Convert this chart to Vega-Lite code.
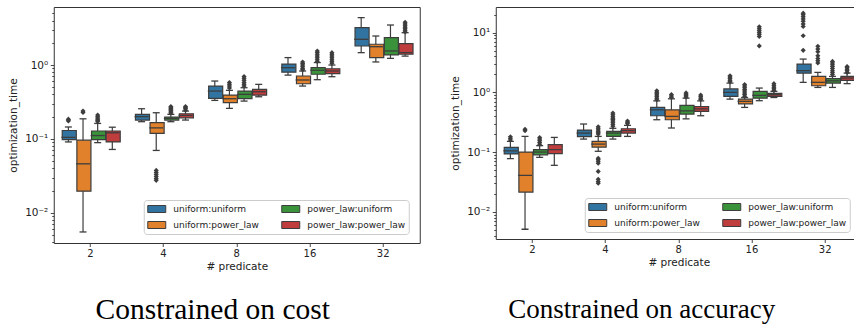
{
  "$schema": "https://vega.github.io/schema/vega-lite/v6.json",
  "padding": {"left": 6.75, "top": 6, "right": 0, "bottom": 0},
  "background": "white",
  "config": {
    "view": {"stroke": "#333333", "strokeWidth": 1},
    "axis": {"grid": false, "domain": false, "tickColor": "#333333", "tickSize": 3.5, "tickWidth": 0.9, "labelFont": "DejaVu Sans", "labelFontSize": 10, "labelColor": "#222222", "titleFont": "DejaVu Sans", "titleFontSize": 10.5, "titleFontWeight": "normal", "titleColor": "#222222"},
    "axisX": {"labelAngle": 0, "labelPadding": 2, "titlePadding": 3},
    "axisY": {"labelPadding": 2.5, "titlePadding": 5.75, "labelOverlap": false, "labelFontSize": 10.5, "minExtent": 30, "maxExtent": 30},
    "legend": {"title": null, "columns": 2, "symbolType": "M-1,-0.7H2.6V0.7H-1Z", "symbolSize": 100, "symbolStrokeColor": "#3d3d3d", "symbolStrokeWidth": 1, "symbolOpacity": 1, "labelFont": "DejaVu Sans", "labelFontSize": 9, "labelColor": "#222222", "labelOffset": 15, "columnPadding": 20, "rowPadding": 5, "padding": 3.5, "fillColor": "white", "strokeColor": "#cccccc", "cornerRadius": 3},
    "title": {"font": "Liberation Serif", "fontWeight": "normal", "color": "black"}
  },
  "datasets": {
    "stats": [
      {"p": "cost", "pred": 2, "dist": "uniform:uniform", "lo": 0.091, "q1": 0.098, "med": 0.105, "q3": 0.130, "hi": 0.145},
      {"p": "cost", "pred": 2, "dist": "uniform:power_law", "lo": 0.0055, "q1": 0.0196, "med": 0.046, "q3": 0.096, "hi": 0.187},
      {"p": "cost", "pred": 2, "dist": "power_law:uniform", "lo": 0.089, "q1": 0.098, "med": 0.111, "q3": 0.128, "hi": 0.162},
      {"p": "cost", "pred": 2, "dist": "power_law:power_law", "lo": 0.072, "q1": 0.091, "med": 0.121, "q3": 0.128, "hi": 0.144},
      {"p": "cost", "pred": 4, "dist": "uniform:uniform", "lo": 0.171, "q1": 0.18, "med": 0.2, "q3": 0.215, "hi": 0.256},
      {"p": "cost", "pred": 4, "dist": "uniform:power_law", "lo": 0.0698, "q1": 0.119, "med": 0.141, "q3": 0.166, "hi": 0.226},
      {"p": "cost", "pred": 4, "dist": "power_law:uniform", "lo": 0.171, "q1": 0.18, "med": 0.19, "q3": 0.197, "hi": 0.215},
      {"p": "cost", "pred": 4, "dist": "power_law:power_law", "lo": 0.18, "q1": 0.193, "med": 0.208, "q3": 0.219, "hi": 0.238},
      {"p": "cost", "pred": 8, "dist": "uniform:uniform", "lo": 0.332, "q1": 0.354, "med": 0.444, "q3": 0.519, "hi": 0.607},
      {"p": "cost", "pred": 8, "dist": "uniform:power_law", "lo": 0.259, "q1": 0.309, "med": 0.35, "q3": 0.392, "hi": 0.454},
      {"p": "cost", "pred": 8, "dist": "power_law:uniform", "lo": 0.325, "q1": 0.35, "med": 0.401, "q3": 0.444, "hi": 0.493},
      {"p": "cost", "pred": 8, "dist": "power_law:power_law", "lo": 0.372, "q1": 0.392, "med": 0.435, "q3": 0.468, "hi": 0.547},
      {"p": "cost", "pred": 16, "dist": "uniform:uniform", "lo": 0.73, "q1": 0.8, "med": 0.92, "q3": 1.03, "hi": 1.26},
      {"p": "cost", "pred": 16, "dist": "uniform:power_law", "lo": 0.519, "q1": 0.558, "med": 0.627, "q3": 0.71, "hi": 0.83},
      {"p": "cost", "pred": 16, "dist": "power_law:uniform", "lo": 0.633, "q1": 0.75, "med": 0.85, "q3": 0.92, "hi": 1.08},
      {"p": "cost", "pred": 16, "dist": "power_law:power_law", "lo": 0.695, "q1": 0.763, "med": 0.83, "q3": 0.89, "hi": 1.0},
      {"p": "cost", "pred": 32, "dist": "uniform:uniform", "lo": 1.47, "q1": 1.81, "med": 2.23, "q3": 3.2, "hi": 4.38},
      {"p": "cost", "pred": 32, "dist": "uniform:power_law", "lo": 1.1, "q1": 1.26, "med": 1.77, "q3": 1.91, "hi": 2.47},
      {"p": "cost", "pred": 32, "dist": "power_law:uniform", "lo": 1.23, "q1": 1.37, "med": 1.55, "q3": 2.35, "hi": 3.48},
      {"p": "cost", "pred": 32, "dist": "power_law:power_law", "lo": 1.32, "q1": 1.4, "med": 1.47, "q3": 1.95, "hi": 2.74},
      {"p": "acc", "pred": 2, "dist": "uniform:uniform", "lo": 0.0776, "q1": 0.093, "med": 0.105, "q3": 0.12, "hi": 0.151},
      {"p": "acc", "pred": 2, "dist": "uniform:power_law", "lo": 0.0051, "q1": 0.0214, "med": 0.0407, "q3": 0.1, "hi": 0.183},
      {"p": "acc", "pred": 2, "dist": "power_law:uniform", "lo": 0.0816, "q1": 0.09, "med": 0.1, "q3": 0.11, "hi": 0.128},
      {"p": "acc", "pred": 2, "dist": "power_law:power_law", "lo": 0.06, "q1": 0.094, "med": 0.11, "q3": 0.133, "hi": 0.176},
      {"p": "acc", "pred": 4, "dist": "uniform:uniform", "lo": 0.165, "q1": 0.181, "med": 0.208, "q3": 0.234, "hi": 0.295},
      {"p": "acc", "pred": 4, "dist": "uniform:power_law", "lo": 0.103, "q1": 0.121, "med": 0.136, "q3": 0.151, "hi": 0.183},
      {"p": "acc", "pred": 4, "dist": "power_law:uniform", "lo": 0.165, "q1": 0.183, "med": 0.208, "q3": 0.222, "hi": 0.25},
      {"p": "acc", "pred": 4, "dist": "power_law:power_law", "lo": 0.183, "q1": 0.208, "med": 0.228, "q3": 0.246, "hi": 0.28},
      {"p": "acc", "pred": 8, "dist": "uniform:uniform", "lo": 0.348, "q1": 0.406, "med": 0.51, "q3": 0.561, "hi": 0.72},
      {"p": "acc", "pred": 8, "dist": "uniform:power_law", "lo": 0.253, "q1": 0.348, "med": 0.396, "q3": 0.51, "hi": 0.78},
      {"p": "acc", "pred": 8, "dist": "power_law:uniform", "lo": 0.36, "q1": 0.433, "med": 0.49, "q3": 0.605, "hi": 0.8},
      {"p": "acc", "pred": 8, "dist": "power_law:power_law", "lo": 0.406, "q1": 0.48, "med": 0.53, "q3": 0.58, "hi": 0.72},
      {"p": "acc", "pred": 16, "dist": "uniform:uniform", "lo": 0.77, "q1": 0.857, "med": 1.0, "q3": 1.14, "hi": 1.43},
      {"p": "acc", "pred": 16, "dist": "uniform:power_law", "lo": 0.56, "q1": 0.64, "med": 0.707, "q3": 0.77, "hi": 0.82},
      {"p": "acc", "pred": 16, "dist": "power_law:uniform", "lo": 0.725, "q1": 0.8, "med": 0.89, "q3": 1.04, "hi": 1.18},
      {"p": "acc", "pred": 16, "dist": "power_law:power_law", "lo": 0.82, "q1": 0.857, "med": 0.914, "q3": 0.962, "hi": 1.04},
      {"p": "acc", "pred": 32, "dist": "uniform:uniform", "lo": 1.47, "q1": 2.1, "med": 2.31, "q3": 2.98, "hi": 3.61},
      {"p": "acc", "pred": 32, "dist": "uniform:power_law", "lo": 1.21, "q1": 1.29, "med": 1.47, "q3": 1.85, "hi": 2.16},
      {"p": "acc", "pred": 32, "dist": "power_law:uniform", "lo": 1.21, "q1": 1.43, "med": 1.56, "q3": 1.7, "hi": 1.85},
      {"p": "acc", "pred": 32, "dist": "power_law:power_law", "lo": 1.4, "q1": 1.59, "med": 1.74, "q3": 1.85, "hi": 2.1}
    ],
    "out": [
      {"p": "cost", "pred": 2, "dist": "uniform:uniform", "v": 0.175},
      {"p": "cost", "pred": 2, "dist": "uniform:uniform", "v": 0.18},
      {"p": "cost", "pred": 2, "dist": "uniform:uniform", "v": 0.185},
      {"p": "cost", "pred": 2, "dist": "uniform:power_law", "v": 0.228},
      {"p": "cost", "pred": 2, "dist": "uniform:power_law", "v": 0.238},
      {"p": "cost", "pred": 2, "dist": "power_law:uniform", "v": 0.172},
      {"p": "cost", "pred": 2, "dist": "power_law:uniform", "v": 0.178},
      {"p": "cost", "pred": 2, "dist": "power_law:uniform", "v": 0.185},
      {"p": "cost", "pred": 2, "dist": "power_law:uniform", "v": 0.192},
      {"p": "cost", "pred": 2, "dist": "power_law:uniform", "v": 0.2},
      {"p": "cost", "pred": 2, "dist": "power_law:uniform", "v": 0.21},
      {"p": "cost", "pred": 4, "dist": "uniform:power_law", "v": 0.0275},
      {"p": "cost", "pred": 4, "dist": "uniform:power_law", "v": 0.029},
      {"p": "cost", "pred": 4, "dist": "uniform:power_law", "v": 0.031},
      {"p": "cost", "pred": 4, "dist": "uniform:power_law", "v": 0.033},
      {"p": "cost", "pred": 4, "dist": "uniform:power_law", "v": 0.035},
      {"p": "cost", "pred": 4, "dist": "uniform:power_law", "v": 0.0375},
      {"p": "cost", "pred": 4, "dist": "power_law:uniform", "v": 0.225},
      {"p": "cost", "pred": 4, "dist": "power_law:uniform", "v": 0.232},
      {"p": "cost", "pred": 4, "dist": "power_law:uniform", "v": 0.24},
      {"p": "cost", "pred": 4, "dist": "power_law:uniform", "v": 0.248},
      {"p": "cost", "pred": 4, "dist": "power_law:uniform", "v": 0.256},
      {"p": "cost", "pred": 4, "dist": "power_law:uniform", "v": 0.265},
      {"p": "cost", "pred": 4, "dist": "power_law:uniform", "v": 0.275},
      {"p": "cost", "pred": 4, "dist": "power_law:power_law", "v": 0.245},
      {"p": "cost", "pred": 4, "dist": "power_law:power_law", "v": 0.255},
      {"p": "cost", "pred": 4, "dist": "power_law:power_law", "v": 0.265},
      {"p": "cost", "pred": 4, "dist": "power_law:power_law", "v": 0.275},
      {"p": "cost", "pred": 8, "dist": "uniform:power_law", "v": 0.49},
      {"p": "cost", "pred": 8, "dist": "uniform:power_law", "v": 0.52},
      {"p": "cost", "pred": 8, "dist": "uniform:power_law", "v": 0.55},
      {"p": "cost", "pred": 8, "dist": "uniform:power_law", "v": 0.58},
      {"p": "cost", "pred": 8, "dist": "power_law:uniform", "v": 0.52},
      {"p": "cost", "pred": 8, "dist": "power_law:uniform", "v": 0.55},
      {"p": "cost", "pred": 8, "dist": "power_law:uniform", "v": 0.58},
      {"p": "cost", "pred": 8, "dist": "power_law:uniform", "v": 0.62},
      {"p": "cost", "pred": 8, "dist": "power_law:uniform", "v": 0.66},
      {"p": "cost", "pred": 8, "dist": "power_law:uniform", "v": 0.7},
      {"p": "cost", "pred": 16, "dist": "uniform:power_law", "v": 0.86},
      {"p": "cost", "pred": 16, "dist": "uniform:power_law", "v": 0.9},
      {"p": "cost", "pred": 16, "dist": "uniform:power_law", "v": 0.95},
      {"p": "cost", "pred": 16, "dist": "uniform:power_law", "v": 1.0},
      {"p": "cost", "pred": 16, "dist": "uniform:power_law", "v": 1.05},
      {"p": "cost", "pred": 16, "dist": "uniform:power_law", "v": 1.1},
      {"p": "cost", "pred": 16, "dist": "power_law:uniform", "v": 1.12},
      {"p": "cost", "pred": 16, "dist": "power_law:uniform", "v": 1.18},
      {"p": "cost", "pred": 16, "dist": "power_law:uniform", "v": 1.25},
      {"p": "cost", "pred": 16, "dist": "power_law:uniform", "v": 1.32},
      {"p": "cost", "pred": 16, "dist": "power_law:uniform", "v": 1.4},
      {"p": "cost", "pred": 16, "dist": "power_law:uniform", "v": 1.48},
      {"p": "cost", "pred": 16, "dist": "power_law:uniform", "v": 1.55},
      {"p": "cost", "pred": 16, "dist": "power_law:power_law", "v": 1.06},
      {"p": "cost", "pred": 16, "dist": "power_law:power_law", "v": 1.12},
      {"p": "cost", "pred": 16, "dist": "power_law:power_law", "v": 1.18},
      {"p": "cost", "pred": 16, "dist": "power_law:power_law", "v": 1.25},
      {"p": "cost", "pred": 16, "dist": "power_law:power_law", "v": 1.32},
      {"p": "cost", "pred": 16, "dist": "power_law:power_law", "v": 1.4},
      {"p": "cost", "pred": 16, "dist": "power_law:power_law", "v": 1.47},
      {"p": "cost", "pred": 32, "dist": "power_law:power_law", "v": 2.8},
      {"p": "cost", "pred": 32, "dist": "power_law:power_law", "v": 2.95},
      {"p": "cost", "pred": 32, "dist": "power_law:power_law", "v": 3.1},
      {"p": "cost", "pred": 32, "dist": "power_law:power_law", "v": 3.25},
      {"p": "cost", "pred": 32, "dist": "power_law:power_law", "v": 3.4},
      {"p": "cost", "pred": 32, "dist": "power_law:power_law", "v": 3.6},
      {"p": "cost", "pred": 32, "dist": "power_law:power_law", "v": 3.8},
      {"p": "acc", "pred": 2, "dist": "uniform:uniform", "v": 0.16},
      {"p": "acc", "pred": 2, "dist": "uniform:uniform", "v": 0.17},
      {"p": "acc", "pred": 2, "dist": "uniform:uniform", "v": 0.18},
      {"p": "acc", "pred": 2, "dist": "uniform:power_law", "v": 0.228},
      {"p": "acc", "pred": 2, "dist": "uniform:power_law", "v": 0.24},
      {"p": "acc", "pred": 2, "dist": "power_law:uniform", "v": 0.135},
      {"p": "acc", "pred": 2, "dist": "power_law:uniform", "v": 0.145},
      {"p": "acc", "pred": 2, "dist": "power_law:uniform", "v": 0.155},
      {"p": "acc", "pred": 2, "dist": "power_law:uniform", "v": 0.165},
      {"p": "acc", "pred": 2, "dist": "power_law:uniform", "v": 0.175},
      {"p": "acc", "pred": 4, "dist": "uniform:power_law", "v": 0.2},
      {"p": "acc", "pred": 4, "dist": "uniform:power_law", "v": 0.21},
      {"p": "acc", "pred": 4, "dist": "uniform:power_law", "v": 0.22},
      {"p": "acc", "pred": 4, "dist": "uniform:power_law", "v": 0.235},
      {"p": "acc", "pred": 4, "dist": "uniform:power_law", "v": 0.25},
      {"p": "acc", "pred": 4, "dist": "uniform:power_law", "v": 0.265},
      {"p": "acc", "pred": 4, "dist": "uniform:power_law", "v": 0.079},
      {"p": "acc", "pred": 4, "dist": "uniform:power_law", "v": 0.075},
      {"p": "acc", "pred": 4, "dist": "uniform:power_law", "v": 0.07},
      {"p": "acc", "pred": 4, "dist": "uniform:power_law", "v": 0.065},
      {"p": "acc", "pred": 4, "dist": "uniform:power_law", "v": 0.0475},
      {"p": "acc", "pred": 4, "dist": "uniform:power_law", "v": 0.035},
      {"p": "acc", "pred": 4, "dist": "uniform:power_law", "v": 0.032},
      {"p": "acc", "pred": 4, "dist": "uniform:power_law", "v": 0.03},
      {"p": "acc", "pred": 4, "dist": "power_law:uniform", "v": 0.27},
      {"p": "acc", "pred": 4, "dist": "power_law:uniform", "v": 0.29},
      {"p": "acc", "pred": 4, "dist": "power_law:uniform", "v": 0.31},
      {"p": "acc", "pred": 4, "dist": "power_law:uniform", "v": 0.33},
      {"p": "acc", "pred": 4, "dist": "power_law:uniform", "v": 0.35},
      {"p": "acc", "pred": 4, "dist": "power_law:uniform", "v": 0.37},
      {"p": "acc", "pred": 4, "dist": "power_law:uniform", "v": 0.39},
      {"p": "acc", "pred": 4, "dist": "power_law:uniform", "v": 0.42},
      {"p": "acc", "pred": 4, "dist": "power_law:uniform", "v": 0.45},
      {"p": "acc", "pred": 4, "dist": "power_law:power_law", "v": 0.3},
      {"p": "acc", "pred": 4, "dist": "power_law:power_law", "v": 0.315},
      {"p": "acc", "pred": 4, "dist": "power_law:power_law", "v": 0.33},
      {"p": "acc", "pred": 8, "dist": "uniform:uniform", "v": 0.75},
      {"p": "acc", "pred": 8, "dist": "uniform:uniform", "v": 0.8},
      {"p": "acc", "pred": 8, "dist": "uniform:uniform", "v": 0.85},
      {"p": "acc", "pred": 8, "dist": "uniform:uniform", "v": 0.9},
      {"p": "acc", "pred": 8, "dist": "uniform:uniform", "v": 0.95},
      {"p": "acc", "pred": 8, "dist": "uniform:uniform", "v": 1.0},
      {"p": "acc", "pred": 8, "dist": "uniform:uniform", "v": 1.06},
      {"p": "acc", "pred": 8, "dist": "uniform:power_law", "v": 0.82},
      {"p": "acc", "pred": 8, "dist": "uniform:power_law", "v": 0.87},
      {"p": "acc", "pred": 8, "dist": "uniform:power_law", "v": 0.92},
      {"p": "acc", "pred": 8, "dist": "power_law:uniform", "v": 0.84},
      {"p": "acc", "pred": 8, "dist": "power_law:uniform", "v": 0.88},
      {"p": "acc", "pred": 8, "dist": "power_law:uniform", "v": 0.93},
      {"p": "acc", "pred": 8, "dist": "power_law:uniform", "v": 0.98},
      {"p": "acc", "pred": 8, "dist": "power_law:power_law", "v": 0.76},
      {"p": "acc", "pred": 8, "dist": "power_law:power_law", "v": 0.8},
      {"p": "acc", "pred": 8, "dist": "power_law:power_law", "v": 0.85},
      {"p": "acc", "pred": 8, "dist": "power_law:power_law", "v": 0.9},
      {"p": "acc", "pred": 16, "dist": "uniform:uniform", "v": 1.5},
      {"p": "acc", "pred": 16, "dist": "uniform:uniform", "v": 1.6},
      {"p": "acc", "pred": 16, "dist": "uniform:uniform", "v": 1.7},
      {"p": "acc", "pred": 16, "dist": "uniform:uniform", "v": 1.8},
      {"p": "acc", "pred": 16, "dist": "uniform:uniform", "v": 1.9},
      {"p": "acc", "pred": 16, "dist": "uniform:power_law", "v": 0.86},
      {"p": "acc", "pred": 16, "dist": "uniform:power_law", "v": 0.92},
      {"p": "acc", "pred": 16, "dist": "uniform:power_law", "v": 0.98},
      {"p": "acc", "pred": 16, "dist": "uniform:power_law", "v": 1.05},
      {"p": "acc", "pred": 16, "dist": "uniform:power_law", "v": 1.12},
      {"p": "acc", "pred": 16, "dist": "uniform:power_law", "v": 1.2},
      {"p": "acc", "pred": 16, "dist": "uniform:power_law", "v": 1.28},
      {"p": "acc", "pred": 16, "dist": "uniform:power_law", "v": 1.35},
      {"p": "acc", "pred": 16, "dist": "power_law:uniform", "v": 6.0},
      {"p": "acc", "pred": 16, "dist": "power_law:uniform", "v": 8.6},
      {"p": "acc", "pred": 16, "dist": "power_law:uniform", "v": 9.3},
      {"p": "acc", "pred": 16, "dist": "power_law:uniform", "v": 10.0},
      {"p": "acc", "pred": 16, "dist": "power_law:uniform", "v": 10.8},
      {"p": "acc", "pred": 16, "dist": "power_law:uniform", "v": 11.6},
      {"p": "acc", "pred": 16, "dist": "power_law:uniform", "v": 12.5},
      {"p": "acc", "pred": 16, "dist": "power_law:power_law", "v": 1.08},
      {"p": "acc", "pred": 16, "dist": "power_law:power_law", "v": 1.15},
      {"p": "acc", "pred": 16, "dist": "power_law:power_law", "v": 1.22},
      {"p": "acc", "pred": 16, "dist": "power_law:power_law", "v": 1.3},
      {"p": "acc", "pred": 16, "dist": "power_law:power_law", "v": 1.4},
      {"p": "acc", "pred": 32, "dist": "uniform:uniform", "v": 5.05},
      {"p": "acc", "pred": 32, "dist": "uniform:uniform", "v": 8.9},
      {"p": "acc", "pred": 32, "dist": "uniform:uniform", "v": 12.7},
      {"p": "acc", "pred": 32, "dist": "uniform:uniform", "v": 14.0},
      {"p": "acc", "pred": 32, "dist": "uniform:uniform", "v": 15.5},
      {"p": "acc", "pred": 32, "dist": "uniform:uniform", "v": 17.0},
      {"p": "acc", "pred": 32, "dist": "uniform:uniform", "v": 18.5},
      {"p": "acc", "pred": 32, "dist": "uniform:uniform", "v": 20.0},
      {"p": "acc", "pred": 32, "dist": "uniform:uniform", "v": 21.2},
      {"p": "acc", "pred": 32, "dist": "uniform:power_law", "v": 3.1},
      {"p": "acc", "pred": 32, "dist": "uniform:power_law", "v": 3.4},
      {"p": "acc", "pred": 32, "dist": "uniform:power_law", "v": 3.7},
      {"p": "acc", "pred": 32, "dist": "uniform:power_law", "v": 4.1},
      {"p": "acc", "pred": 32, "dist": "uniform:power_law", "v": 4.8},
      {"p": "acc", "pred": 32, "dist": "uniform:power_law", "v": 5.3},
      {"p": "acc", "pred": 32, "dist": "uniform:power_law", "v": 5.9},
      {"p": "acc", "pred": 32, "dist": "power_law:uniform", "v": 2.0},
      {"p": "acc", "pred": 32, "dist": "power_law:uniform", "v": 2.15},
      {"p": "acc", "pred": 32, "dist": "power_law:uniform", "v": 2.3},
      {"p": "acc", "pred": 32, "dist": "power_law:uniform", "v": 2.5},
      {"p": "acc", "pred": 32, "dist": "power_law:uniform", "v": 2.7},
      {"p": "acc", "pred": 32, "dist": "power_law:uniform", "v": 2.9},
      {"p": "acc", "pred": 32, "dist": "power_law:uniform", "v": 3.1},
      {"p": "acc", "pred": 32, "dist": "power_law:uniform", "v": 3.3},
      {"p": "acc", "pred": 32, "dist": "power_law:power_law", "v": 2.16},
      {"p": "acc", "pred": 32, "dist": "power_law:power_law", "v": 2.3},
      {"p": "acc", "pred": 32, "dist": "power_law:power_law", "v": 2.45},
      {"p": "acc", "pred": 32, "dist": "power_law:power_law", "v": 2.6},
      {"p": "acc", "pred": 32, "dist": "power_law:power_law", "v": 2.7}
    ]
  },
  "spacing": 28,
  "resolve": {"scale": {"y": "independent", "color": "independent", "x": "independent", "xOffset": "independent"}, "legend": {"color": "independent"}},
  "hconcat": [
    {
      "width": 366,
      "height": 236,
      "title": {"text": "Constrained on cost", "orient": "bottom", "anchor": "middle", "dx": -24, "offset": 24, "baseline": "top", "fontSize": 29.5},
      "encoding": {
        "x": {"field": "pred", "type": "ordinal", "scale": {"paddingInner": 0.2, "paddingOuter": 0.1}, "axis": {"title": "# predicate"}},
        "xOffset": {"field": "dist", "type": "nominal", "scale": {"domain": ["uniform:uniform", "uniform:power_law", "power_law:uniform", "power_law:power_law"], "paddingInner": 0, "paddingOuter": 0}}
      },
      "layer": [
        {
          "data": {"name": "stats"},
          "transform": [{"filter": "datum.p == 'cost'"}],
          "mark": {"type": "rule", "color": "#3d3d3d", "strokeWidth": 1.2},
          "encoding": {
            "y": {"field": "lo", "type": "quantitative", "title": "optimization_time", "scale": {"type": "log", "domain": [0.0039, 6.1], "nice": false},
              "axis": {
                "values": [0.004, 0.005, 0.006, 0.007, 0.008, 0.009, 0.01, 0.02, 0.03, 0.04, 0.05, 0.06, 0.07, 0.08, 0.09, 0.1, 0.2, 0.3, 0.4, 0.5, 0.6, 0.7, 0.8, 0.9, 1, 2, 3, 4, 5],
                "labelExpr": "abs(log(datum.value)/LN10 - round(log(datum.value)/LN10)) < 0.000001 ? (round(log(datum.value)/LN10) == 1 ? '10¹' : round(log(datum.value)/LN10) == 0 ? '10⁰' : round(log(datum.value)/LN10) == -1 ? '10⁻¹' : '10⁻²') : ''",
                "tickSize": {"condition": {"test": "abs(log(datum.value)/LN10 - round(log(datum.value)/LN10)) < 0.000001", "value": 3.5}, "value": 2}}},
            "y2": {"field": "hi"}
          }
        },
        {
          "data": {"name": "stats"},
          "transform": [{"filter": "datum.p == 'cost'"}],
          "mark": {"type": "bar", "stroke": "#3d3d3d", "strokeWidth": 1.2, "width": {"band": 0.96}, "opacity": 1},
          "encoding": {
            "y": {"field": "q1", "type": "quantitative", "title": "optimization_time"},
            "y2": {"field": "q3"},
            "color": {"field": "dist", "type": "nominal",
              "scale": {"domain": ["uniform:uniform", "uniform:power_law", "power_law:uniform", "power_law:power_law"], "range": ["#3274a1", "#e1812c", "#3a923a", "#c03d3e"]},
              "legend": {"orient": "none", "legendX": 90, "legendY": 193}}
          }
        },
        {
          "data": {"name": "stats"},
          "transform": [{"filter": "datum.p == 'cost'"}],
          "mark": {"type": "tick", "color": "#3d3d3d", "thickness": 1.3, "size": 14, "opacity": 1},
          "encoding": {"y": {"field": "med", "type": "quantitative", "title": "optimization_time"}}
        },
        {
          "data": {"name": "stats"},
          "transform": [{"filter": "datum.p == 'cost'"}],
          "mark": {"type": "tick", "color": "#3d3d3d", "thickness": 1.3, "size": 7, "opacity": 1},
          "encoding": {"y": {"field": "lo", "type": "quantitative", "title": "optimization_time"}}
        },
        {
          "data": {"name": "stats"},
          "transform": [{"filter": "datum.p == 'cost'"}],
          "mark": {"type": "tick", "color": "#3d3d3d", "thickness": 1.3, "size": 7, "opacity": 1},
          "encoding": {"y": {"field": "hi", "type": "quantitative", "title": "optimization_time"}}
        },
        {
          "data": {"name": "out"},
          "transform": [{"filter": "datum.p == 'cost'"}],
          "mark": {"type": "point", "shape": "diamond", "filled": true, "color": "#3d3d3d", "size": 26, "opacity": 1},
          "encoding": {"y": {"field": "v", "type": "quantitative", "title": "optimization_time"}}
        }
      ]
    },
    {
      "width": 366,
      "height": 232,
      "title": {"text": "Constrained on accuracy", "orient": "bottom", "anchor": "middle", "dx": -37, "offset": 29, "baseline": "top", "fontSize": 27},
      "encoding": {
        "x": {"field": "pred", "type": "ordinal", "scale": {"paddingInner": 0.2, "paddingOuter": 0.1}, "axis": {"title": "# predicate"}},
        "xOffset": {"field": "dist", "type": "nominal", "scale": {"domain": ["uniform:uniform", "uniform:power_law", "power_law:uniform", "power_law:power_law"], "paddingInner": 0, "paddingOuter": 0}}
      },
      "layer": [
        {
          "data": {"name": "stats"},
          "transform": [{"filter": "datum.p == 'acc'"}],
          "mark": {"type": "rule", "color": "#3d3d3d", "strokeWidth": 1.2},
          "encoding": {
            "y": {"field": "lo", "type": "quantitative", "title": "optimization_time", "scale": {"type": "log", "domain": [0.0035, 26.9], "nice": false},
              "axis": {
                "values": [0.004, 0.005, 0.006, 0.007, 0.008, 0.009, 0.01, 0.02, 0.03, 0.04, 0.05, 0.06, 0.07, 0.08, 0.09, 0.1, 0.2, 0.3, 0.4, 0.5, 0.6, 0.7, 0.8, 0.9, 1, 2, 3, 4, 5, 6, 7, 8, 9, 10, 20],
                "labelExpr": "abs(log(datum.value)/LN10 - round(log(datum.value)/LN10)) < 0.000001 ? (round(log(datum.value)/LN10) == 1 ? '10¹' : round(log(datum.value)/LN10) == 0 ? '10⁰' : round(log(datum.value)/LN10) == -1 ? '10⁻¹' : '10⁻²') : ''",
                "tickSize": {"condition": {"test": "abs(log(datum.value)/LN10 - round(log(datum.value)/LN10)) < 0.000001", "value": 3.5}, "value": 2}}},
            "y2": {"field": "hi"}
          }
        },
        {
          "data": {"name": "stats"},
          "transform": [{"filter": "datum.p == 'acc'"}],
          "mark": {"type": "bar", "stroke": "#3d3d3d", "strokeWidth": 1.2, "width": {"band": 0.96}, "opacity": 1},
          "encoding": {
            "y": {"field": "q1", "type": "quantitative", "title": "optimization_time"},
            "y2": {"field": "q3"},
            "color": {"field": "dist", "type": "nominal",
              "scale": {"domain": ["uniform:uniform", "uniform:power_law", "power_law:uniform", "power_law:power_law"], "range": ["#3274a1", "#e1812c", "#3a923a", "#c03d3e"]},
              "legend": {"orient": "none", "legendX": 89, "legendY": 191}}
          }
        },
        {
          "data": {"name": "stats"},
          "transform": [{"filter": "datum.p == 'acc'"}],
          "mark": {"type": "tick", "color": "#3d3d3d", "thickness": 1.3, "size": 14, "opacity": 1},
          "encoding": {"y": {"field": "med", "type": "quantitative", "title": "optimization_time"}}
        },
        {
          "data": {"name": "stats"},
          "transform": [{"filter": "datum.p == 'acc'"}],
          "mark": {"type": "tick", "color": "#3d3d3d", "thickness": 1.3, "size": 7, "opacity": 1},
          "encoding": {"y": {"field": "lo", "type": "quantitative", "title": "optimization_time"}}
        },
        {
          "data": {"name": "stats"},
          "transform": [{"filter": "datum.p == 'acc'"}],
          "mark": {"type": "tick", "color": "#3d3d3d", "thickness": 1.3, "size": 7, "opacity": 1},
          "encoding": {"y": {"field": "hi", "type": "quantitative", "title": "optimization_time"}}
        },
        {
          "data": {"name": "out"},
          "transform": [{"filter": "datum.p == 'acc'"}],
          "mark": {"type": "point", "shape": "diamond", "filled": true, "color": "#3d3d3d", "size": 26, "opacity": 1},
          "encoding": {"y": {"field": "v", "type": "quantitative", "title": "optimization_time"}}
        }
      ]
    }
  ]
}
